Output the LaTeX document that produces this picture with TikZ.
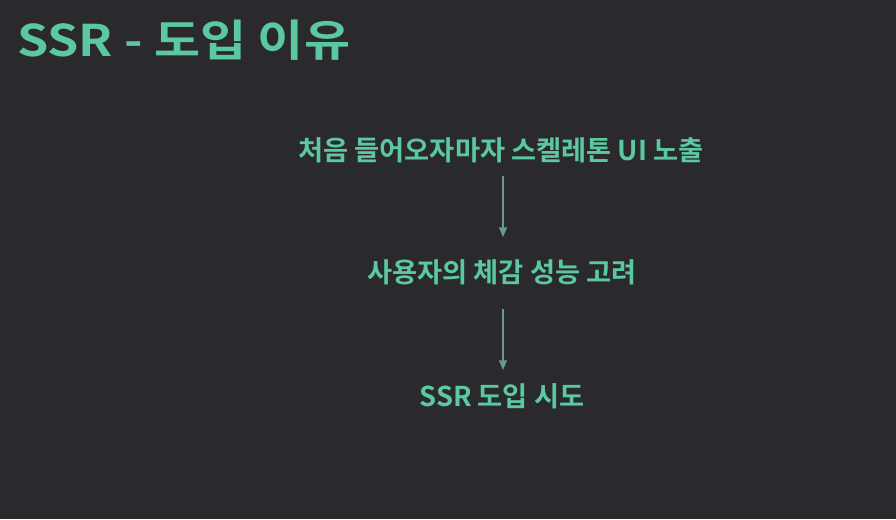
\documentclass[tikz,border=0pt]{standalone}
\usepackage{fontspec}
\usepackage{tikz}
\usetikzlibrary{arrows.meta}
\newfontfamily\kofont{Noto Sans CJK KR Bold}
\definecolor{slidebg}{HTML}{2A2A2E}
\definecolor{mint}{HTML}{5CC8A0}
\definecolor{arrowgreen}{HTML}{6A9A88}
\tikzset{
  flowarr/.style   = {-{Triangle[length=2.4mm,width=2.0mm]}, line width=1pt, arrowgreen},
  titletext/.style = {font=\kofont\fontsize{31}{31}\selectfont, mint, inner sep=0pt, xscale=1.15},
  steptext/.style  = {font=\kofont\fontsize{19.4}{19.4}\selectfont, mint, inner sep=0pt}
}

\begin{document}
\begin{tikzpicture}
  % --- background
  \fill[slidebg] (0,0) rectangle (22.4,-12.975);
  \useasboundingbox (0,0) rectangle (22.4,-12.975);
  % --- title
  \node[titletext,anchor=west] (title) at (0.425,-1.0) {SSR - 도입 이유};
  % --- steps
  \node[steptext] (first)  at (12.525,-3.75) {처음 들어오자마자 스켈레톤 UI 노출};
  \node[steptext] (second) at (12.55,-6.8)   {사용자의 체감 성능 고려};
  \node[steptext] (third)  at (12.55,-9.9)   {SSR 도입 시도};
  % --- arrows
  \draw[flowarr] ([xshift=0.05cm,yshift=-0.65cm]first.center) -- ([xshift=0.025cm,yshift=0.875cm]second.center);
  \draw[flowarr] ([xshift=0.025cm,yshift=-0.925cm]second.center) -- ([xshift=0.025cm,yshift=0.65cm]third.center);
\end{tikzpicture}
\end{document}
